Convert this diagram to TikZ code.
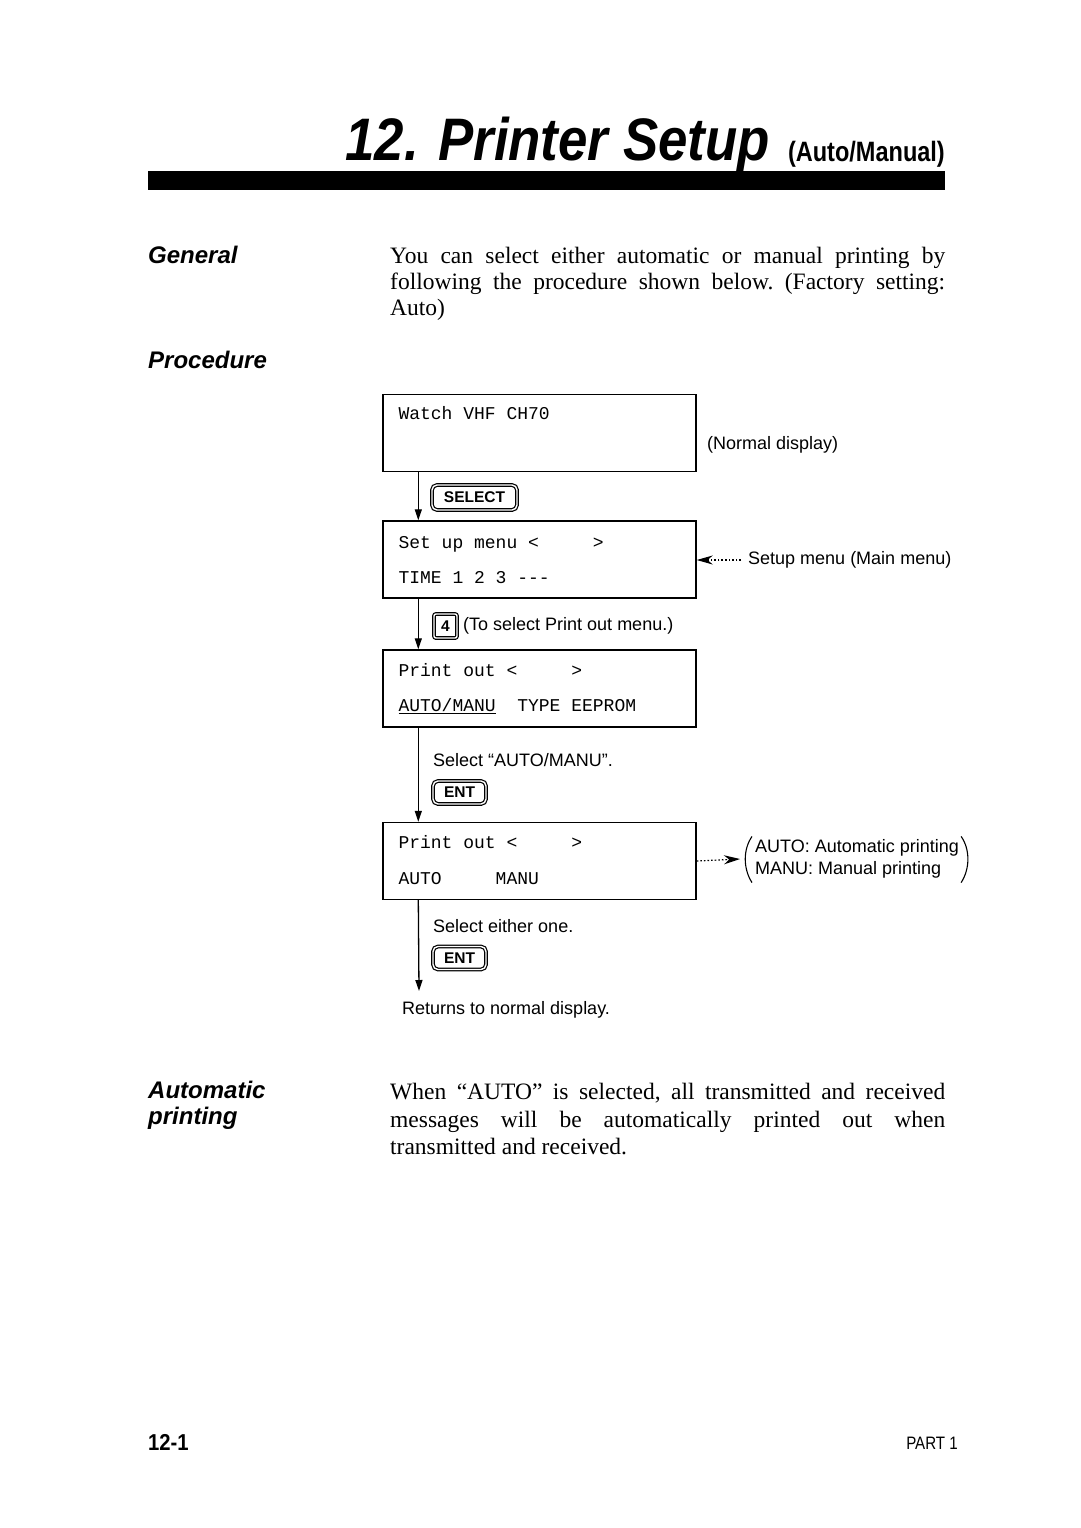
\documentclass[tikz,border=0pt]{standalone}
\usepackage{fontspec}
\setmainfont{Liberation Serif}
\newfontfamily\psSans{Liberation Sans}
\newfontfamily\psMono{Liberation Mono}
\newfontfamily\psTitle[FakeStretch=0.88]{Liberation Sans}
\newfontfamily\psSub[FakeStretch=0.84]{Liberation Sans}
\usetikzlibrary{arrows.meta}
\definecolor{psInk}{HTML}{000000}
\newcommand{\PSBody}{\rmfamily\fontsize{23.5}{26}\selectfont\frenchspacing}
\newcommand{\PSLabel}{\psSans\fontsize{18}{22}\selectfont}
\newcommand{\PSLcd}{\psMono\fontsize{18}{22}\selectfont}
\newcommand{\PSHead}{\psSans\bfseries\itshape\fontsize{24}{26}\selectfont}
\newcommand{\PSGap}[1]{\hspace*{#1\fontcharwd\font`x}}
\tikzset{ps/base/.style={x=1pt,y=-1pt,line cap=butt,line join=miter,
  every node/.style={inner sep=0pt,text=psInk}},
  ps/display/.style={draw=psInk,line width=1.4pt,minimum width=313pt,minimum height=77pt},
  ps/lcd/.style={font=\PSLcd,anchor=base west},
  ps/label/.style={font=\PSLabel,anchor=west},
  ps/key/.style={draw=psInk,double,double distance=1.4pt,line width=1.2pt,rounded corners=5pt,
    font=\psSans\bfseries\fontsize{15.5}{17}\selectfont},
  ps/arrow/.style={-{Triangle[length=11pt,width=7pt]},draw=psInk,line width=1.3pt},
  ps/dotarrow/.style={-{Stealth[length=16pt,width=9pt]},draw=psInk,line width=1.2pt,
    dash pattern=on 1.6pt off 2pt},
  ps/paren/.style={draw=psInk,line width=1.1pt},
  ps/body/.style={font=\PSBody,anchor=base west},
  ps/head/.style={font=\PSHead,anchor=base west}}

\begin{document}
\begin{tikzpicture}[ps/base]
  \useasboundingbox (0,0) rectangle (1080,1528);
  % title and rule
  \node[anchor=base east,font=\psTitle\bfseries\itshape\fontsize{60}{60}\selectfont] (title) at (770,160) {12. Printer Setup};
  \node[anchor=base east,font=\psSub\bfseries\fontsize{28}{28}\selectfont] (subtitle) at (945,161) {(Auto/Manual)};
  \fill[psInk] (148,171) rectangle (945,190);
  % side headings
  \node[ps/head] (general) at (148,263) {General};
  \node[ps/head] (procedure) at (148,368) {Procedure};
  \node[ps/head] (automatic) at (148,1098) {Automatic};
  \node[ps/head] (printing) at (148,1124) {printing};
  % body text, one justified line per node
  \foreach \y/\txt/\n in {263/{You can select either automatic or manual printing by}/1,
      289/{following the procedure shown below. (Factory setting:}/2}{
    \node[ps/body] (gen\n) at (390,\y) {\makebox[555pt][s]{\txt}};}
  \node[ps/body] (gen3) at (390,315) {Auto)};
  \foreach \y/\txt/\n in {1099/{When “AUTO” is selected, all transmitted and received}/1,
      1127/{messages will be automatically printed out when}/2}{
    \node[ps/body] (auto\n) at (390,\y) {\makebox[555pt][s]{\txt}};}
  \node[ps/body] (auto3) at (390,1154) {transmitted and received.};
  % displays
  \node[ps/display] (disp1) at (539.5,433) {};
  \node[ps/lcd] (disp1a) at ([xshift=16pt,yshift=-26pt]disp1.north west) {Watch VHF CH70};
  \node[ps/label] (normal) at (707,445) {(Normal display)};
  \node[ps/display] (disp2) at (539.5,559.5) {};
  \node[ps/lcd] (disp2a) at ([xshift=16pt,yshift=-28pt]disp2.north west) {Set up menu <\PSGap{5}>};
  \node[ps/lcd] (disp2b) at ([xshift=16pt,yshift=-63pt]disp2.north west) {TIME 1 2 3 {-}{-}{-}};
  \node[ps/label] (setup) at (748,560) {Setup menu (Main menu)};
  \node[ps/display] (disp3) at (539.5,688.5) {};
  \node[ps/lcd] (disp3a) at ([xshift=16pt,yshift=-27pt]disp3.north west) {Print out <\PSGap{5}>};
  \node[ps/lcd] (disp3b) at ([xshift=16pt,yshift=-62pt]disp3.north west) {\underline{AUTO/MANU}\PSGap{2}TYPE EEPROM};
  \node[ps/display] (disp4) at (539.5,861) {};
  \node[ps/lcd] (disp4a) at ([xshift=16pt,yshift=-27pt]disp4.north west) {Print out <\PSGap{5}>};
  \node[ps/lcd] (disp4b) at ([xshift=16pt,yshift=-63pt]disp4.north west) {AUTO\PSGap{5}MANU};
  \node[ps/label,align=left] (legend) at (755,859) {AUTO: Automatic printing\\MANU: Manual printing};
  \draw[ps/paren] ([xshift=-3pt,yshift=3pt]legend.north west)
    .. controls ([xshift=-12pt,yshift=-10pt]legend.north west) and ([xshift=-12pt,yshift=10pt]legend.south west)
    .. ([xshift=-3pt,yshift=-4pt]legend.south west);
  \draw[ps/paren] ([xshift=2pt,yshift=3pt]legend.north east)
    .. controls ([xshift=11pt,yshift=-10pt]legend.north east) and ([xshift=11pt,yshift=10pt]legend.south east)
    .. ([xshift=2pt,yshift=-4pt]legend.south east);
  % keys and step notes
  \node[ps/key,minimum width=85pt,minimum height=25pt] (selectkey) at (474.5,497.5) {SELECT};
  \node[ps/key,minimum width=23pt,minimum height=24pt,rounded corners=2pt] (key4) at (445.5,626) {4};
  \node[ps/label] (note4) at (463,626) {(To select Print out menu.)};
  \node[ps/label] (selam) at (433,760) {Select “AUTO/MANU”.};
  \node[ps/key,minimum width=53pt,minimum height=23pt] (entkey1) at (459.5,792.5) {ENT};
  \node[ps/label] (selone) at (433,926) {Select either one.};
  \node[ps/key,minimum width=53pt,minimum height=23pt] (entkey2) at (459.5,958) {ENT};
  \node[ps/label] (ret) at (402,1010) {Returns to normal display.};
  \coordinate (retend) at (419,991);
  % flow arrows
  \draw[ps/arrow] ([xshift=36pt]disp1.south west) -- ([xshift=36pt]disp2.north west);
  \draw[ps/arrow] ([xshift=36pt]disp2.south west) -- ([xshift=36pt]disp3.north west);
  \draw[ps/arrow] ([xshift=36pt]disp3.south west) -- ([xshift=36pt]disp4.north west);
  \draw[ps/arrow] ([xshift=36pt]disp4.south west) -- (retend);
  \draw[ps/dotarrow,shorten <=7pt] (setup.west) -- (disp2.east |- setup.west);
  \draw[ps/dotarrow] (disp4.east) -- ([xshift=-15pt]legend.west);
  % page footer
  \node[anchor=base west,font=\psTitle\bfseries\fontsize{23}{23}\selectfont] (pageno) at (148,1450) {12-1};
  \node[anchor=base east,font=\psSub\fontsize{18}{18}\selectfont] (part) at (958,1449) {PART 1};
\end{tikzpicture}
\end{document}
